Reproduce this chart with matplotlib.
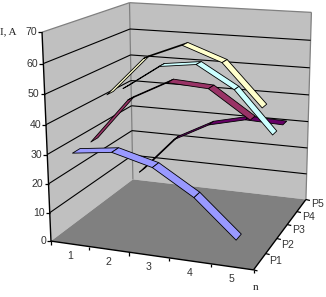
import numpy as np
import matplotlib
matplotlib.use('Agg')
import matplotlib.pyplot as plt
from matplotlib.patches import Polygon

categories = ['1', '2', '3', '4', '5']
series_names = ['P1', 'P2', 'P3', 'P4', 'P5']
z_ticks = [0, 10, 20, 30, 40, 50, 60, 70]
P1 = [30.0, 31.7, 28.1, 19.7, 7.3]
P2 = [30.0, 45.8, 52.7, 51.8, 42.7]
P3 = [43.3, 57.1, 62.5, 57.6, 43.4]
P4 = [42.5, 51.6, 53.3, 45.4, 30.5]
P5 = [6.7, 20.9, 28.0, 31.2, 30.6]
values = [P1, P2, P3, P4, P5]
colors = ['#9999FF', '#993366', '#FFFFCC', '#CCFFFF', '#660066']

# perspective camera fitted to the Excel 3-D plot box: (cat, series, value) -> pixels
M = np.array([[37.0147, 21.4747, -0.1612, 50.9561],
              [2.0296, -5.4688, -3.0102, 241.1103],
              [-0.0138, 0.0383, -0.0008, 1.0]])

def proj(x, y, z):
    h = M @ np.array([x, y, z, 1.0])
    return h[0] / h[2], h[1] / h[2]

fig = plt.figure(figsize=(3.26, 2.97), dpi=100, facecolor='white')
ax = fig.add_axes([0, 0, 1, 1])
ax.set_xlim(0, 326)
ax.set_ylim(297, 0)
ax.axis('off')
plt.rcParams['font.family'] = 'Liberation Sans'

nx, ny, zmax = len(categories), len(series_names), z_ticks[-1]
wall = '#C0C0C0'
ax.add_patch(Polygon([proj(0, 0, 0), proj(0, ny, 0), proj(0, ny, zmax), proj(0, 0, zmax)],
                     fc=wall, ec='none', zorder=1))
ax.add_patch(Polygon([proj(0, ny, 0), proj(nx, ny, 0), proj(nx, ny, zmax), proj(0, ny, zmax)],
                     fc=wall, ec='none', zorder=1))
ax.add_patch(Polygon([proj(0, 0, 0), proj(nx, 0, 0), proj(nx, ny, 0), proj(0, ny, 0)],
                     fc='#808080', ec='none', zorder=1))

def line(a, b, c='k', lw=0.8, zo=2):
    ax.plot([a[0], b[0]], [a[1], b[1]], color=c, lw=lw, zorder=zo, solid_capstyle='butt')

# wall outlines
line(proj(0, 0, zmax), proj(0, ny, zmax), '#808080', 0.9)
line(proj(0, ny, zmax), proj(nx, ny, zmax), '#808080', 0.9)
line(proj(nx, ny, zmax), proj(nx, ny, 0), '#808080', 0.9)
line(proj(0, ny, zmax), proj(0, ny, 0), '#808080', 0.9)

# gridlines
for z in z_ticks[1:-1]:
    line(proj(0, 0, z), proj(0, ny, z))
    line(proj(0, ny, z), proj(nx, ny, z))

# axes
line(proj(0, 0, 0), proj(0, 0, zmax), 'k', 1.0, 3)
line(proj(0, 0, 0), proj(nx, 0, 0), 'k', 1.0, 3)
line(proj(nx, 0, 0), proj(nx, ny, 0), 'k', 1.0, 3)

txt = '#333333'
for z in z_ticks:
    u, v = proj(0, 0, z)
    line((u - 4, v), (u, v), 'k', 0.9, 3)
    ax.text(u - 5, v, str(z), ha='right', va='center', fontsize=7.6, color=txt)
for i in range(nx + 1):
    u, v = proj(i, 0, 0)
    line((u, v), (u, v + 3.5), 'k', 0.9, 3)
for i, c in enumerate(categories):
    u, v = proj(i + 0.5, 0, 0)
    ax.text(u, v + 12.5, c, ha='center', va='center', fontsize=7.6, color=txt)
for k in range(ny + 1):
    u, v = proj(nx, k, 0)
    line((u, v), (u + 4, v + 1), 'k', 0.9, 3)
for k, s in enumerate(series_names):
    u, v = proj(nx, k + 0.5, 0)
    ax.text(u + 16, v - 1, s, ha='center', va='center', fontsize=7.6, color=txt)

# ribbons, back series first
half = 0.2
for k in range(ny - 1, -1, -1):
    vals = values[k]
    for i in range(nx - 1):
        a, b = i + 0.5, i + 1.5
        quad = [proj(a, k + 0.5 - half, vals[i]), proj(b, k + 0.5 - half, vals[i + 1]),
                proj(b, k + 0.5 + half, vals[i + 1]), proj(a, k + 0.5 + half, vals[i])]
        ax.add_patch(Polygon(quad, fc=colors[k], ec='k', lw=0.6, zorder=5 + (ny - k) + 0.1 * i,
                             joinstyle='round'))

ax.text(0, 32, 'I, A', ha='left', va='center', fontsize=8, family='Liberation Serif', color='#222222')
ax.text(253, 288, 'n', ha='left', va='center', fontsize=8, family='Liberation Serif', color='#222222')

fig.savefig('out.png', dpi=100, facecolor='white')
